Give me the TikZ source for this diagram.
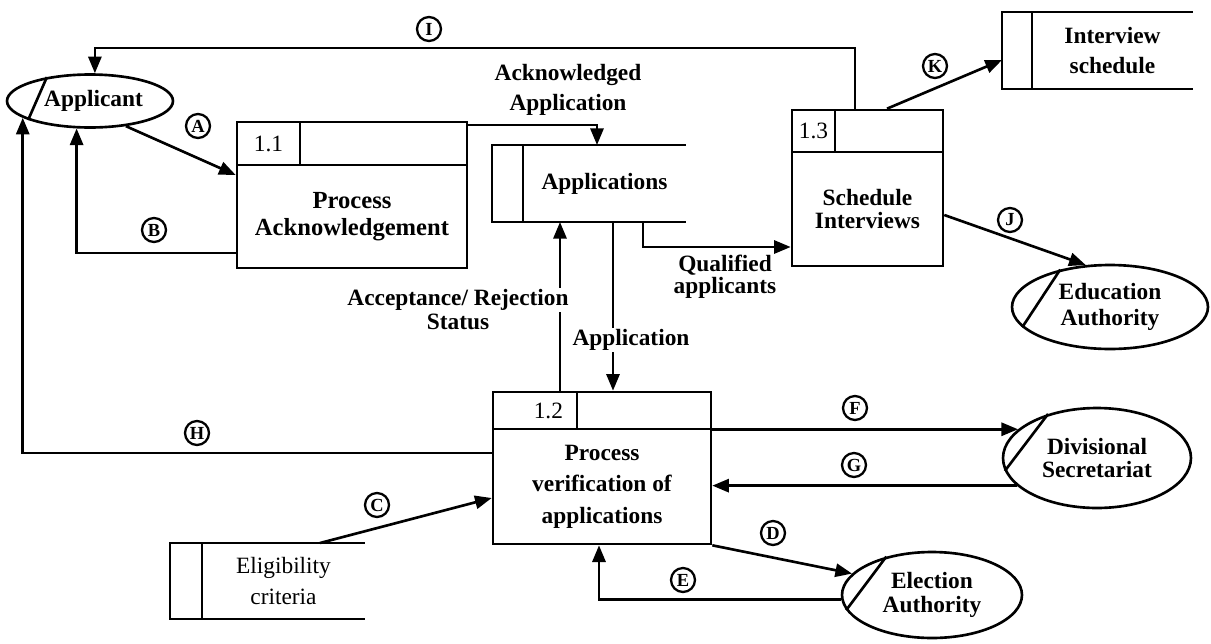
\documentclass[tikz,border=0pt]{standalone}
\usepackage{fontspec}
\setmainfont{Liberation Serif}
\usetikzlibrary{arrows.meta,shapes.geometric,calc}
\begin{document}
\begin{tikzpicture}[x=0.02cm,y=-0.02cm,
  every node/.style={font=\fontsize{13.3}{16}\selectfont\bfseries},
  ln/.style={line width=1.5pt},
  flow/.style={ln,-{Triangle[length=9.5pt,width=7.5pt]}},
  body/.style={draw,ln,rectangle,inner sep=0pt,align=center},
  cell/.style={draw,ln,rectangle,inner sep=0pt,font=\fontsize{13.3}{16}\selectfont},
  ent/.style={draw,ln,ellipse,inner sep=0pt,align=center},
  store/.style={rectangle,inner sep=0pt,outer sep=0pt,align=center},
  tag/.style={circle,draw,line width=1.3pt,inner sep=0pt,minimum size=0.48cm,font=\fontsize{10.5}{10.5}\selectfont\bfseries},
  lab/.style={align=center,inner sep=1pt},
]
\useasboundingbox (0,0) rectangle (1211,643);

% external entities
\node[ent,minimum width=3.32cm,minimum height=1.06cm] (app) at (90,101) {\hspace*{4pt}Applicant};
\draw[ln] (app.197) -- (app.151);
\node[ent,minimum width=3.92cm,minimum height=1.68cm,font=\fontsize{13.3}{15}\selectfont\bfseries] (edu) at (1110,307) {Education\\Authority};
\draw[ln] (edu.193) -- (edu.143);
\node[ent,minimum width=3.76cm,minimum height=2cm,font=\fontsize{13.3}{13}\selectfont\bfseries] (dsec) at (1097,458) {Divisional\\Secretariat};
\draw[ln] (dsec.188) -- (dsec.138);
\node[ent,minimum width=3.6cm,minimum height=1.72cm,font=\fontsize{13.3}{14}\selectfont\bfseries] (elect) at (932,595) {Election\\Authority};
\draw[ln] (elect.190) -- (elect.140);

% processes
\node[body,minimum width=4.6cm,minimum height=2.06cm,font=\fontsize{14}{15.5}\selectfont\bfseries] (p11) at (352,216.5) {Process\\Acknowledgement};
\node[cell,minimum width=1.26cm,minimum height=0.86cm] (p11n) at (268.5,143.5) {1.1};
\node[cell,minimum width=3.34cm,minimum height=0.86cm] (p11h) at (383.5,143.5) {};

\node[body,minimum width=4.36cm,minimum height=2.3cm,font=\fontsize{13.3}{18}\selectfont\bfseries] (p12) at (602,486.5) {Process\\verification of\\applications};
\node[cell,minimum width=1.68cm,minimum height=0.74cm,text width=1.12cm,inner xsep=0.28cm,align=right] (p12n) at (535,410.5) {1.2};
\node[cell,minimum width=2.68cm,minimum height=0.74cm] (p12h) at (644,410.5) {};

\node[body,minimum width=3.02cm,minimum height=2.28cm,font=\fontsize{13.3}{13}\selectfont\bfseries] (p13) at (867.5,209) {Schedule\\Interviews};
\node[cell,minimum width=0.86cm,minimum height=0.84cm] (p13n) at (813.5,131) {1.3};
\node[cell,minimum width=2.16cm,minimum height=0.84cm] (p13h) at (889,131) {};

% data stores
\node[store,minimum width=3.26cm,minimum height=1.54cm] (apps) at (604.5,183.5) {Applications};
\draw[ln] (apps.north east) -- ($(apps.north west)+(-31,0)$) |- (apps.south east);
\draw[ln] (apps.north west) -- (apps.south west);

\node[store,minimum width=3.22cm,minimum height=1.54cm,font=\fontsize{13.3}{17}\selectfont\bfseries] (isch) at (1112.5,50.5) {Interview\\schedule\hspace*{0pt}};
\coordinate (ischL) at ($(isch.north west)+(-30,0)$);
\draw[ln] (isch.north east) -- (ischL) |- (isch.south east);
\draw[ln] (isch.north west) -- (isch.south west);

\node[store,minimum width=3.26cm,minimum height=1.52cm,font=\fontsize{13.3}{18}\selectfont] (elig) at (283.5,581) {Eligibility\\criteria};
\draw[ln] (elig.north east) -- ($(elig.north west)+(-32,0)$) |- (elig.south east);
\draw[ln] (elig.north west) -- (elig.south west);

% flows
\draw[flow] (app.-35) -- (p11.west |- 0,175);
\draw[flow] (p11.west |- 0,253) -| (app.244);
\draw[flow] (p12.west |- 0,453) -| (app.194);
\draw[flow] (p13h.north -| 855,0) -- (855,48) -| (app.80);
\draw[flow] (p13h.north -| 887,0) -- (ischL |- 0,60);
\draw[flow] (p11h.east |- 0,125) -| (apps.north -| 597,0);
\draw[flow] (apps.south -| 643,0) |- (p13.west |- 0,247);
\draw[flow] (apps.south -| 613,0) -- (p12h.north -| 613,0);
\draw[flow] (p12n.north -| 560,0) -- (apps.south -| 560,0);
\draw[flow] (p12h.east |- dsec.160) -- (dsec.160);
\draw[flow] (dsec.199) -- (p12.east |- dsec.199);
\draw[flow] (elig.north -| 320,0) -- (p12.west |- 0,498);
\draw[flow] (p12.south east) -- (elect.165);
\draw[flow] (elect.183) -| (p12.south -| 599,0);
\draw[flow] (p13.east |- 0,215) -- (edu.120);

% flow labels
\node[lab,font=\fontsize{13.3}{17.5}\selectfont\bfseries] (lack) at (568,90) {Acknowledged\\Application};
\node[lab,font=\fontsize{13.3}{12.5}\selectfont\bfseries] (lqual) at (725,277) {Qualified\\applicants};
\node[lab,fill=white] (lacc) at (458,300) {Acceptance/ Rejection};
\node[lab] (lstat) at (458,322) {Status};
\node[lab,fill=white] (lappl) at (631,340) {Application};

\node[tag] (tA) at (198,126) {A};
\node[tag] (tB) at (154,230) {B};
\node[tag] (tC) at (377,505) {C};
\node[tag] (tD) at (773,533) {D};
\node[tag] (tE) at (683,580) {E};
\node[tag] (tF) at (855,408) {F};
\node[tag] (tG) at (854,465) {G};
\node[tag] (tH) at (197,433) {H};
\node[tag] (tI) at (429,29) {I};
\node[tag] (tJ) at (1010,220) {J};
\node[tag] (tK) at (935,66) {K};
\end{tikzpicture}
\end{document}
